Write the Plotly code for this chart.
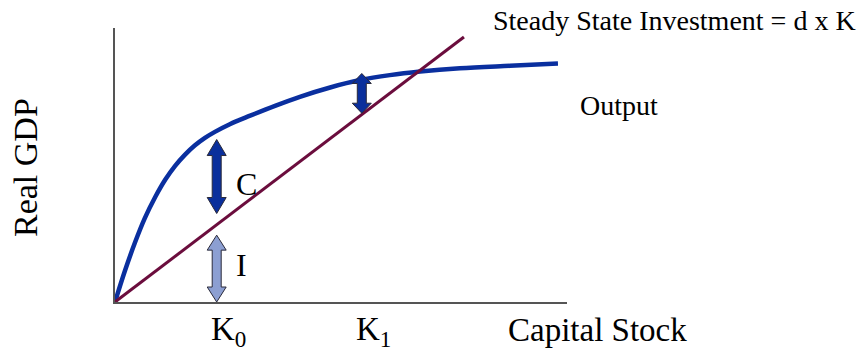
import plotly.graph_objects as go

# Output (Real GDP) as a function of capital stock
capital = [0.0, 0.22, 0.44, 0.66, 0.89, 1.11, 1.33, 1.55, 1.77, 1.99, 2.21,
           2.54, 2.99, 3.54, 4.09, 4.76, 5.42, 6.08, 6.75, 7.63, 8.74, 9.80]
output = [0.0, 1.14, 2.16, 3.06, 3.83, 4.46, 4.97, 5.38, 5.72, 5.99, 6.21,
          6.49, 6.80, 7.16, 7.49, 7.83, 8.10, 8.28, 8.41, 8.53, 8.62, 8.70]

# Steady-state investment line: d x K
depreciation = 1.253
invest_k = [0.0, 7.72]

# Capital levels marked on the axis
K0 = 2.25
K1 = 5.46

# Vertical double arrows: position, top tip, bottom tip, style
arrow_k = [K0, K0, K1]
arrow_top = [5.93, 2.44, 8.34]
arrow_bot = [3.23, 0.0, 6.89]
arrow_fill = ["#0a2f9c", "#8c9fd2", "#0a2f9c"]
arrow_head = [16, 15, 10]

ML, MR, MT, MB = 115, 293, 28, 49
W, H = 860, 351
PX_X = (W - ML - MR) / 10.0
PX_Y = (H - MT - MB) / 10.0


def arrow_poly(xc, y_top, y_bot, head_len_px, head_w_px=9.5, shaft_w_px=4.5):
    hw = head_w_px / PX_X
    sw = shaft_w_px / PX_X
    hl = head_len_px / PX_Y
    xs = [xc, xc + hw, xc + sw, xc + sw, xc + hw, xc,
          xc - hw, xc - sw, xc - sw, xc - hw, xc]
    ys = [y_top, y_top - hl, y_top - hl, y_bot + hl, y_bot + hl, y_bot,
          y_bot + hl, y_bot + hl, y_top - hl, y_top - hl, y_top]
    return xs, ys


fig = go.Figure()

fig.add_trace(go.Scatter(
    x=capital, y=output, mode="lines",
    line=dict(color="#0a2f9f", width=4.5, shape="spline", smoothing=1.0),
    hoverinfo="skip",
))

fig.add_trace(go.Scatter(
    x=invest_k, y=[depreciation * k for k in invest_k], mode="lines",
    line=dict(color="#6b0d3d", width=3),
    hoverinfo="skip",
))

for xc, yt, yb, fc, hl in zip(arrow_k, arrow_top, arrow_bot, arrow_fill, arrow_head):
    xs, ys = arrow_poly(xc, yt, yb, hl)
    fig.add_trace(go.Scatter(
        x=xs, y=ys, mode="lines", fill="toself", fillcolor=fc,
        line=dict(color="#2a2a3a", width=1), hoverinfo="skip",
    ))

SERIF = "Liberation Serif, Times New Roman, serif"


def px_x(p):
    return (p - ML) / (W - ML - MR)


def px_y(p):
    return (H - MB - p) / (H - MT - MB)


annotations = [
    dict(text="Steady State Investment = d x K", x=px_x(491), y=px_y(21),
         xanchor="left", yanchor="middle", font=dict(size=28)),
    dict(text="Output", x=px_x(578), y=px_y(105),
         xanchor="left", yanchor="middle", font=dict(size=28)),
    dict(text="Capital Stock", x=px_x(506), y=px_y(330),
         xanchor="left", yanchor="middle", font=dict(size=33)),
    dict(text="Real GDP", x=px_x(25), y=px_y(168), textangle=-90,
         xanchor="center", yanchor="middle", font=dict(size=34)),
    dict(text="C", x=px_x(234), y=px_y(184),
         xanchor="left", yanchor="middle", font=dict(size=32)),
    dict(text="I", x=px_x(234), y=px_y(265),
         xanchor="left", yanchor="middle", font=dict(size=32)),
]
for k, lab in [(K0, "K<sub>0</sub>"), (K1, "K<sub>1</sub>")]:
    annotations.append(dict(text=lab, x=k, xref="x", xshift=-8,
                            y=px_y(309), yref="paper",
                            xanchor="left", yanchor="top", font=dict(size=33)))

for a in annotations:
    a.setdefault("xref", "paper")
    a.setdefault("yref", "paper")
    a["showarrow"] = False
    a["font"]["family"] = SERIF
    a["font"]["color"] = "#000000"

axis_style = dict(range=[0, 10], showgrid=False, zeroline=False,
                  showticklabels=False, ticks="", showline=True,
                  linecolor="#555555", linewidth=2, fixedrange=True)

fig.update_layout(
    width=W, height=H,
    margin=dict(l=ML, r=MR, t=MT, b=MB),
    paper_bgcolor="white", plot_bgcolor="white",
    showlegend=False,
    xaxis=axis_style, yaxis=axis_style,
    annotations=annotations,
)

fig.write_html("out.html")
